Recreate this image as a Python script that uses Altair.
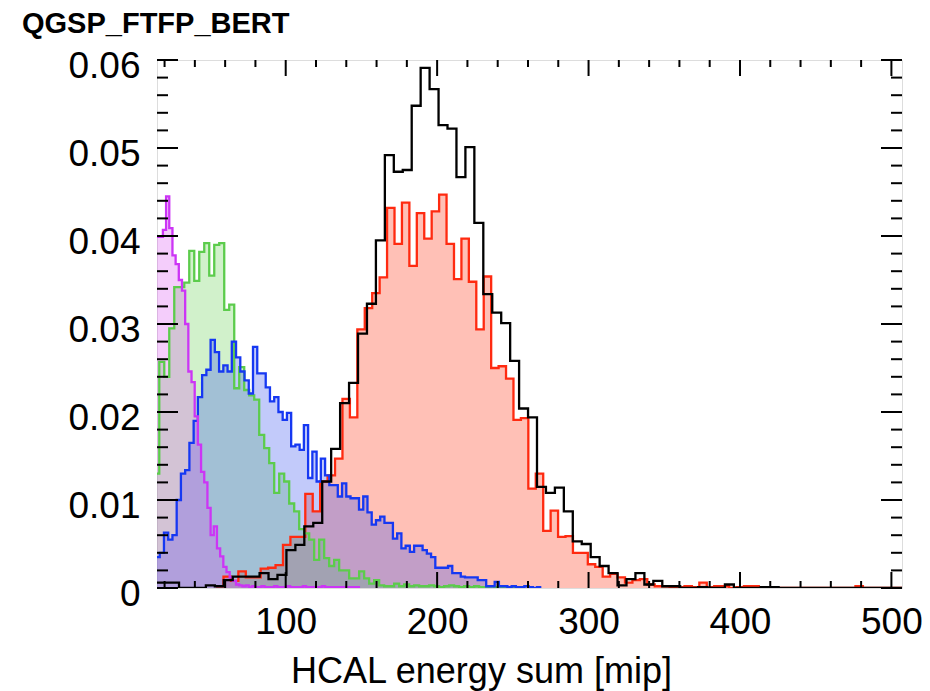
import altair as alt
import pandas as pd

TITLE = "QGSP_FTFP_BERT"
X_TITLE = "HCAL energy sum [mip]"
X_DOMAIN = [15, 507]
Y_DOMAIN = [0, 0.06]
X_LABELS = [100, 200, 300, 400, 500]
Y_LABELS = [0, 0.01, 0.02, 0.03, 0.04, 0.05, 0.06]
X_MINOR = [20, 40, 60, 80, 120, 140, 160, 180, 220, 240, 260, 280,
           320, 340, 360, 380, 420, 440, 460, 480]
Y_MINOR = [0.002, 0.004, 0.006, 0.008, 0.012, 0.014, 0.016, 0.018,
           0.022, 0.024, 0.026, 0.028, 0.032, 0.034, 0.036, 0.038,
           0.042, 0.044, 0.046, 0.048, 0.052, 0.054, 0.056, 0.058]

# each histogram: index of first bin, bin width, bin contents
MAGENTA_FIRST, MAGENTA_WIDTH = 7, 2.1
magenta_vals = [
    0.0399, 0.0399, 0.0407, 0.0445, 0.0409, 0.0378, 0.0368, 0.0350, 0.0338, 0.0300,
    0.0246, 0.0234, 0.0195, 0.0163, 0.0132, 0.0120, 0.0091, 0.0060, 0.0070, 0.0045,
    0.0036, 0.0024, 0.0018, 0.0012, 0.0008, 0.0004, 0.0003, 0.0002, 0.0003, 0.0001,
    0.0002, 0.0001, 0.0001, 0.0002, 0.0001, 0.0001, 0.0001, 0.0002, 0.0001, 0.0001,
    0.0001, 0.0002, 0.0001, 0.0001, 0.0001, 0.0001, 0.0002, 0.0001, 0.0001, 0.0001,
    0.0001, 0.0001, 0.0002, 0.0001, 0.0001, 0.0001, 0.0001, 0.0001, 0.0001, 0.0001,
    0.0001, 0.0001, 0.0001, 0.0001,
]

GREEN_FIRST, GREEN_WIDTH = 4, 3.3
green_vals = [
    0.0130, 0.0257, 0.0240, 0.0295, 0.0342, 0.0342, 0.0347, 0.0383, 0.0349, 0.0382,
    0.0392, 0.0355, 0.0390, 0.0392, 0.0316, 0.0322, 0.0227, 0.0251, 0.0225, 0.0219,
    0.0214, 0.0174, 0.0159, 0.0142, 0.0108, 0.0130, 0.0121, 0.0096, 0.0087, 0.0067,
    0.0062, 0.0055, 0.0032, 0.0055, 0.0034, 0.0025, 0.0032, 0.0020, 0.0020, 0.0011,
    0.0011, 0.0019, 0.0011, 0.0005, 0.0009, 0.0003, 0.0002, 0.0002, 0.0005, 0.0002,
    0.0004, 0.0002, 0.0003, 0.0002, 0.0002, 0.0003, 0.0002, 0.0001, 0.0002, 0.0003,
    0.0002, 0.0001, 0.0002, 0.0001, 0.0002, 0.0001, 0.0001, 0.0002, 0.0001, 0.0001,
    0.0001, 0.0001, 0.0001, 0.0001,
]

BLUE_FIRST, BLUE_WIDTH = 5, 2.8
blue_vals = [
    0.0035, 0.0040, 0.0063, 0.0055, 0.0060, 0.0100, 0.0130, 0.0134, 0.0165, 0.0190,
    0.0217, 0.0242, 0.0248, 0.0282, 0.0268, 0.0246, 0.0253, 0.0246, 0.0280, 0.0262,
    0.0246, 0.0236, 0.0221, 0.0274, 0.0244, 0.0244, 0.0228, 0.0212, 0.0217, 0.0200,
    0.0191, 0.0199, 0.0161, 0.0163, 0.0157, 0.0185, 0.0125, 0.0155, 0.0121, 0.0147,
    0.0128, 0.0117, 0.0117, 0.0104, 0.0119, 0.0104, 0.0102, 0.0102, 0.0089, 0.0104,
    0.0086, 0.0072, 0.0077, 0.0081, 0.0074, 0.0074, 0.0056, 0.0062, 0.0045, 0.0048,
    0.0041, 0.0048, 0.0048, 0.0043, 0.0039, 0.0035, 0.0023, 0.0023, 0.0023, 0.0025,
    0.0017, 0.0017, 0.0013, 0.0012, 0.0012, 0.0012, 0.0009, 0.0009, 0.0002, 0.0002,
    0.0007, 0.0002, 0.0002, 0.0001, 0.0002, 0.0001, 0.0001, 0.0002, 0.0001, 0.0000,
    0.0001,
]

RED_FIRST, RED_WIDTH = 11, 4.91
red_vals = [
    0.0002, 0.0013, 0.0008, 0.0019, 0.0012, 0.0012, 0.0022, 0.0023, 0.0026, 0.0049,
    0.0058, 0.0058, 0.0107, 0.0087, 0.0121, 0.0128, 0.0147, 0.0215, 0.0194, 0.0294,
    0.0318, 0.0335, 0.0353, 0.0432, 0.0391, 0.0438, 0.0366, 0.0426, 0.0397, 0.0428,
    0.0447, 0.0391, 0.0351, 0.0397, 0.0348, 0.0294, 0.0354, 0.0250, 0.0252, 0.0238,
    0.0191, 0.0193, 0.0113, 0.0130, 0.0065, 0.0088, 0.0058, 0.0059, 0.0040, 0.0040,
    0.0027, 0.0024, 0.0013, 0.0016, 0.0012, 0.0006, 0.0009, 0.0010, 0.0004, 0.0002,
    0.0002, 0.0001, 0.0001, 0.0002, 0.0001, 0.0006, 0.0001, 0.0002, 0.0002, 0.0000,
    0.0001, 0.0002, 0.0002, 0.0000, 0.0000, 0.0000, 0.0000, 0.0000, 0.0000, 0.0000,
    0.0000, 0.0000, 0.0000, 0.0000, 0.0000, 0.0000, 0.0002, 0.0000, 0.0000, 0.0000,
    0.0000, 0.0000, 0.0000,
]

BLACK_FIRST, BLACK_WIDTH = 2, 5.91
black_vals = [
    0.0006, 0.0006, 0.0006, 0.0000, 0.0000, 0.0000, 0.0003, 0.0002, 0.0009, 0.0013,
    0.0013, 0.0013, 0.0017, 0.0010, 0.0015, 0.0043, 0.0049, 0.0070, 0.0074, 0.0121,
    0.0158, 0.0210, 0.0233, 0.0289, 0.0323, 0.0395, 0.0492, 0.0473, 0.0475, 0.0548,
    0.0591, 0.0567, 0.0526, 0.0522, 0.0467, 0.0501, 0.0415, 0.0334, 0.0313, 0.0301,
    0.0258, 0.0204, 0.0194, 0.0115, 0.0108, 0.0114, 0.0087, 0.0053, 0.0050, 0.0035,
    0.0025, 0.0017, 0.0003, 0.0010, 0.0017, 0.0004, 0.0008, 0.0002, 0.0002, 0.0000,
    0.0000, 0.0001, 0.0000, 0.0000, 0.0004, 0.0000, 0.0000, 0.0000, 0.0001, 0.0001,
    0.0000, 0.0000, 0.0000, 0.0000, 0.0000, 0.0000, 0.0000, 0.0000, 0.0000, 0.0000,
    0.0000, 0.0000, 0.0000, 0.0000,
]

SERIES = [
    # name, first bin, width, values, line colour, fill colour, fill opacity
    ("red", RED_FIRST, RED_WIDTH, red_vals, "#ff2a10", "#ff5a40", 0.38),
    ("green", GREEN_FIRST, GREEN_WIDTH, green_vals, "#5ccc4c", "#6fd25e", 0.32),
    ("blue", BLUE_FIRST, BLUE_WIDTH, blue_vals, "#1638f2", "#3550ee", 0.30),
    ("magenta", MAGENTA_FIRST, MAGENTA_WIDTH, magenta_vals, "#cc35f5", "#d84cf2", 0.28),
    ("black", BLACK_FIRST, BLACK_WIDTH, black_vals, "#000000", None, 0),
]

W, H = 745, 528
FONT = "Liberation Sans"

xs = alt.Scale(domain=X_DOMAIN, nice=False, zero=False)
ys = alt.Scale(domain=Y_DOMAIN, nice=False, zero=False)


def hist_frame(name, first, width, vals):
    rows = []
    for i, v in enumerate(vals):
        rows.append({"series": name, "x": round((first + i) * width, 4), "y": v})
    rows.append({"series": name, "x": round((first + len(vals)) * width, 4), "y": vals[-1]})
    return pd.DataFrame(rows)


x_axis = alt.Axis(
    values=X_LABELS, format="d", ticks=False, domain=False, grid=False,
    labelFont=FONT, labelFontSize=37, labelColor="black", labelPadding=16,
    labelFlush=False, labelOverlap=False,
    title=X_TITLE, titleFont=FONT, titleFontSize=36, titleFontWeight="normal",
    titleColor="black", titleX=324, titleY=94, titleAlign="center",
    titleBaseline="alphabetic", titleAnchor="start",
)
y_axis = alt.Axis(
    values=Y_LABELS, ticks=False, domain=False, grid=False,
    labelExpr="datum.value == 0 ? '0' : format(datum.value, '.2f')",
    labelFont=FONT, labelFontSize=37, labelColor="black", labelPadding=17,
    labelOffset=6, labelFlush=False, labelOverlap=False, title=None,
)


def X(field="x"):
    return alt.X(f"{field}:Q", scale=xs, axis=x_axis)


def Y(field="y"):
    return alt.Y(f"{field}:Q", scale=ys, axis=y_axis)


layers = []
for name, f, w, vals, lc, fc, op in SERIES:
    if fc is None:
        continue
    d = hist_frame(name, f, w, vals)
    layers.append(
        alt.Chart(d).mark_area(interpolate="step-after", color=fc, opacity=op,
                               clip=True)
        .encode(x=X(), y=Y())
    )

for name, f, w, vals, lc, fc, op in SERIES:
    d = hist_frame(name, f, w, vals)
    layers.append(
        alt.Chart(d).mark_line(interpolate="step-after", color=lc, strokeWidth=2.3,
                               clip=True)
        .encode(x=X(), y=Y())
    )

xmaj = pd.DataFrame({"v": X_LABELS})
xmin = pd.DataFrame({"v": X_MINOR})
ymaj = pd.DataFrame({"v": Y_LABELS})
ymin = pd.DataFrame({"v": Y_MINOR})


def xticks(df, length):
    bottom = alt.Chart(df).mark_rule(color="black", strokeWidth=2).encode(
        x=X("v"), y=alt.value(H), y2=alt.value(H - length))
    top = alt.Chart(df).mark_rule(color="black", strokeWidth=2).encode(
        x=X("v"), y=alt.value(0), y2=alt.value(length))
    return [bottom, top]


def yticks(df, length):
    left = alt.Chart(df).mark_rule(color="black", strokeWidth=2).encode(
        y=Y("v"), x=alt.value(0), x2=alt.value(length))
    right = alt.Chart(df).mark_rule(color="black", strokeWidth=2).encode(
        y=Y("v"), x=alt.value(W), x2=alt.value(W - length))
    return [left, right]


layers += xticks(xmaj, 16) + xticks(xmin, 7) + yticks(ymaj, 21) + yticks(ymin, 11)

chart = alt.layer(*layers).properties(
    width=W, height=H,
    title=alt.TitleParams(TITLE, anchor="start", frame="group", dx=-135, dy=40,
                          offset=25, baseline="alphabetic", font=FONT, fontSize=29,
                          fontWeight="bold", color="black"),
    autosize=alt.AutoSizeParams(type="none"),
    padding={"left": 157, "top": 60, "right": 28, "bottom": 103},
).configure_view(stroke="black", strokeWidth=2.5).configure(background="white")

chart.save("out.html", embed_options={"renderer": "svg", "actions": False})
